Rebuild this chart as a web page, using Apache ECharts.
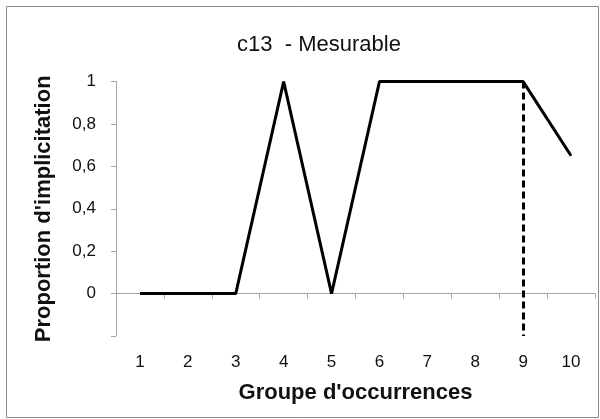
<!DOCTYPE html>
<html>
<head>
<meta charset="utf-8">
<script src="https://cdn.jsdelivr.net/npm/echarts@6/dist/echarts.min.js"></script>
<style>
html,body{margin:0;padding:0;background:#fff;}
#c{width:600px;height:419px;}
</style>
</head>
<body>
<div id="c"></div>
<script>
var categories = ['1','2','3','4','5','6','7','8','9','10'];
var proportions = [0, 0, 0, 1, 0, 1, 1, 1, 1, 0.65];
var thresholdGroup = '9';
var yTicks = [-0.2, 0, 0.2, 0.4, 0.6, 0.8, 1];
var titleText = 'c13  - Mesurable';
var xTitle = "Groupe d'occurrences";
var yTitle = "Proportion d'implicitation";

var chart = echarts.init(document.getElementById('c'), null, {renderer:'canvas'});
var FONT = 'Liberation Sans';
var option = {
  animation: false,
  backgroundColor: '#fff',
  title: {
    text: titleText, left: 314, top: 29, textAlign: 'center',
    textStyle: {fontFamily: FONT, fontSize: 22, fontWeight: 'normal', color: '#111'}
  },
  graphic: [
    {type: 'rect', shape: {x: 6.5, y: 6.5, width: 592, height: 411},
     style: {fill: 'none', stroke: '#8c8c8c', lineWidth: 1}, silent: true, z: -1}
  ],
  grid: {left: 116, right: 5, top: 81.6, bottom: 83, containLabel: false},
  xAxis: {
    type: 'category', data: categories, boundaryGap: true,
    name: xTitle, nameLocation: 'middle', nameGap: 46,
    nameTextStyle: {fontFamily: FONT, fontSize: 22, fontWeight: 'bold', color: '#111'},
    axisLine: {lineStyle: {color: '#a6a6a6', width: 1}},
    axisTick: {show: true, interval: 0, length: 5, lineStyle: {color: '#a6a6a6'}},
    axisLabel: {interval: 0, margin: 18, fontFamily: FONT, fontSize: 17, color: '#111'},
    splitLine: {show: false}
  },
  yAxis: {
    type: 'value', min: yTicks[0], max: yTicks[yTicks.length-1], interval: 0.2,
    name: yTitle, nameLocation: 'middle', nameGap: 61, nameRotate: 90,
    nameTextStyle: {fontFamily: FONT, fontSize: 22, fontWeight: 'bold', color: '#111'},
    axisLine: {show: true, lineStyle: {color: '#a6a6a6', width: 1}},
    axisTick: {show: true, length: 5, lineStyle: {color: '#a6a6a6'}},
    axisLabel: {
      margin: 20, fontFamily: FONT, fontSize: 17, color: '#111',
      formatter: function (v) {
        var r = Math.round(v * 10) / 10;
        if (r < 0) return '';
        return String(r).replace('.', ',');
      }
    },
    splitLine: {show: false}
  },
  series: [{
    type: 'line', data: proportions, symbol: 'none',
    lineStyle: {color: '#000', width: 3},
    markLine: {
      silent: true, symbol: 'none', label: {show: false},
      lineStyle: {color: '#000', width: 3, type: [7, 4]},
      data: [[{coord: [thresholdGroup, yTicks[yTicks.length-1]]}, {coord: [thresholdGroup, yTicks[0]]}]]
    }
  }]
};
chart.setOption(option);
</script>
</body>
</html>
